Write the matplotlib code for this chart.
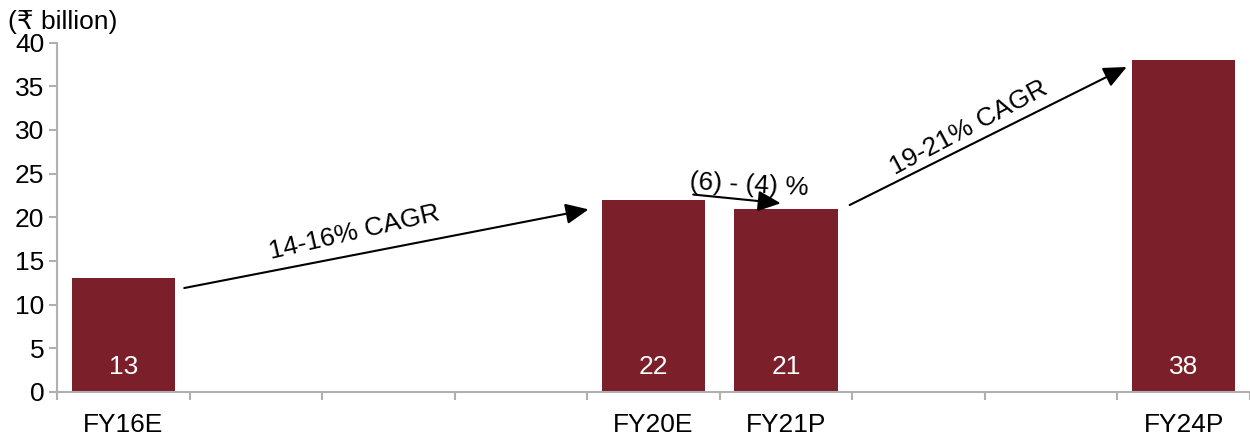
import numpy as np
import matplotlib.pyplot as plt
from matplotlib.ticker import FixedLocator

plt.rcParams['font.family'] = ['Liberation Sans', 'DejaVu Sans']

categories = ["FY16E", "", "", "", "FY20E", "FY21P", "", "", "FY24P"]
values = [13, np.nan, np.nan, np.nan, 22, 21, np.nan, np.nan, 38]
bar_labels = ["13", "", "", "", "22", "21", "", "", "38"]
y_ticks = [0, 5, 10, 15, 20, 25, 30, 35, 40]

bar_color = "#7b1f2a"
axis_grey = "#b0b0b0"
fs = 19

fig = plt.figure(figsize=(12.5, 4.32), dpi=100)
ax = fig.add_axes([0.0456, 0.0926, 0.9544, 0.809])

x = np.arange(len(categories))
bars = ax.bar(x, values, width=0.78, color=bar_color, zorder=2)

for xi, v, lab in zip(x, values, bar_labels):
    if lab:
        ax.text(xi, 2.9, lab, ha="center", va="center", color="white", fontsize=fs)

ax.set_xlim(-0.5, len(categories) - 0.5)
ax.set_ylim(0, 40)
ax.set_yticks(y_ticks)
ax.set_xticks(x)
ax.set_xticklabels(categories)
ax.xaxis.set_minor_locator(FixedLocator(np.arange(-0.5, len(categories), 1.0)))

ax.tick_params(axis="x", which="major", length=0, pad=15, labelsize=fs)
ax.tick_params(axis="x", which="minor", length=6, width=1.5, color=axis_grey, direction="out")
ax.tick_params(axis="y", length=6, width=1.5, color=axis_grey, labelsize=fs, pad=3)

for s in ["top", "right"]:
    ax.spines[s].set_visible(False)
for s in ["left", "bottom"]:
    ax.spines[s].set_color(axis_grey)
    ax.spines[s].set_linewidth(1.5)

# growth arrows
arrow_kw = dict(arrowstyle="-|>,head_length=1.0,head_width=0.45", color="black",
                lw=1.5, mutation_scale=14, shrinkA=0, shrinkB=0)
ax.annotate("", xy=(3.51, 20.9), xytext=(0.46, 11.9), arrowprops=arrow_kw, zorder=5)
ax.annotate("", xy=(4.96, 21.6), xytext=(4.30, 22.6), arrowprops=arrow_kw, zorder=5)
ax.annotate("", xy=(7.57, 37.2), xytext=(5.48, 21.4), arrowprops=arrow_kw, zorder=5)

ax.text(1.745, 18.3, "14-16% CAGR", ha="center", va="center", rotation=13, fontsize=fs)
ax.text(4.72, 23.7, "(6) - (4) %", ha="center", va="center", rotation=-3, fontsize=fs)
ax.text(6.38, 30.2, "19-21% CAGR", ha="center", va="center", rotation=28, fontsize=fs)

fig.text(0.0064, 1 - 22 / 432, "(₹ billion)", ha="left", va="center", fontsize=fs)

fig.savefig("out.png", dpi=100)
